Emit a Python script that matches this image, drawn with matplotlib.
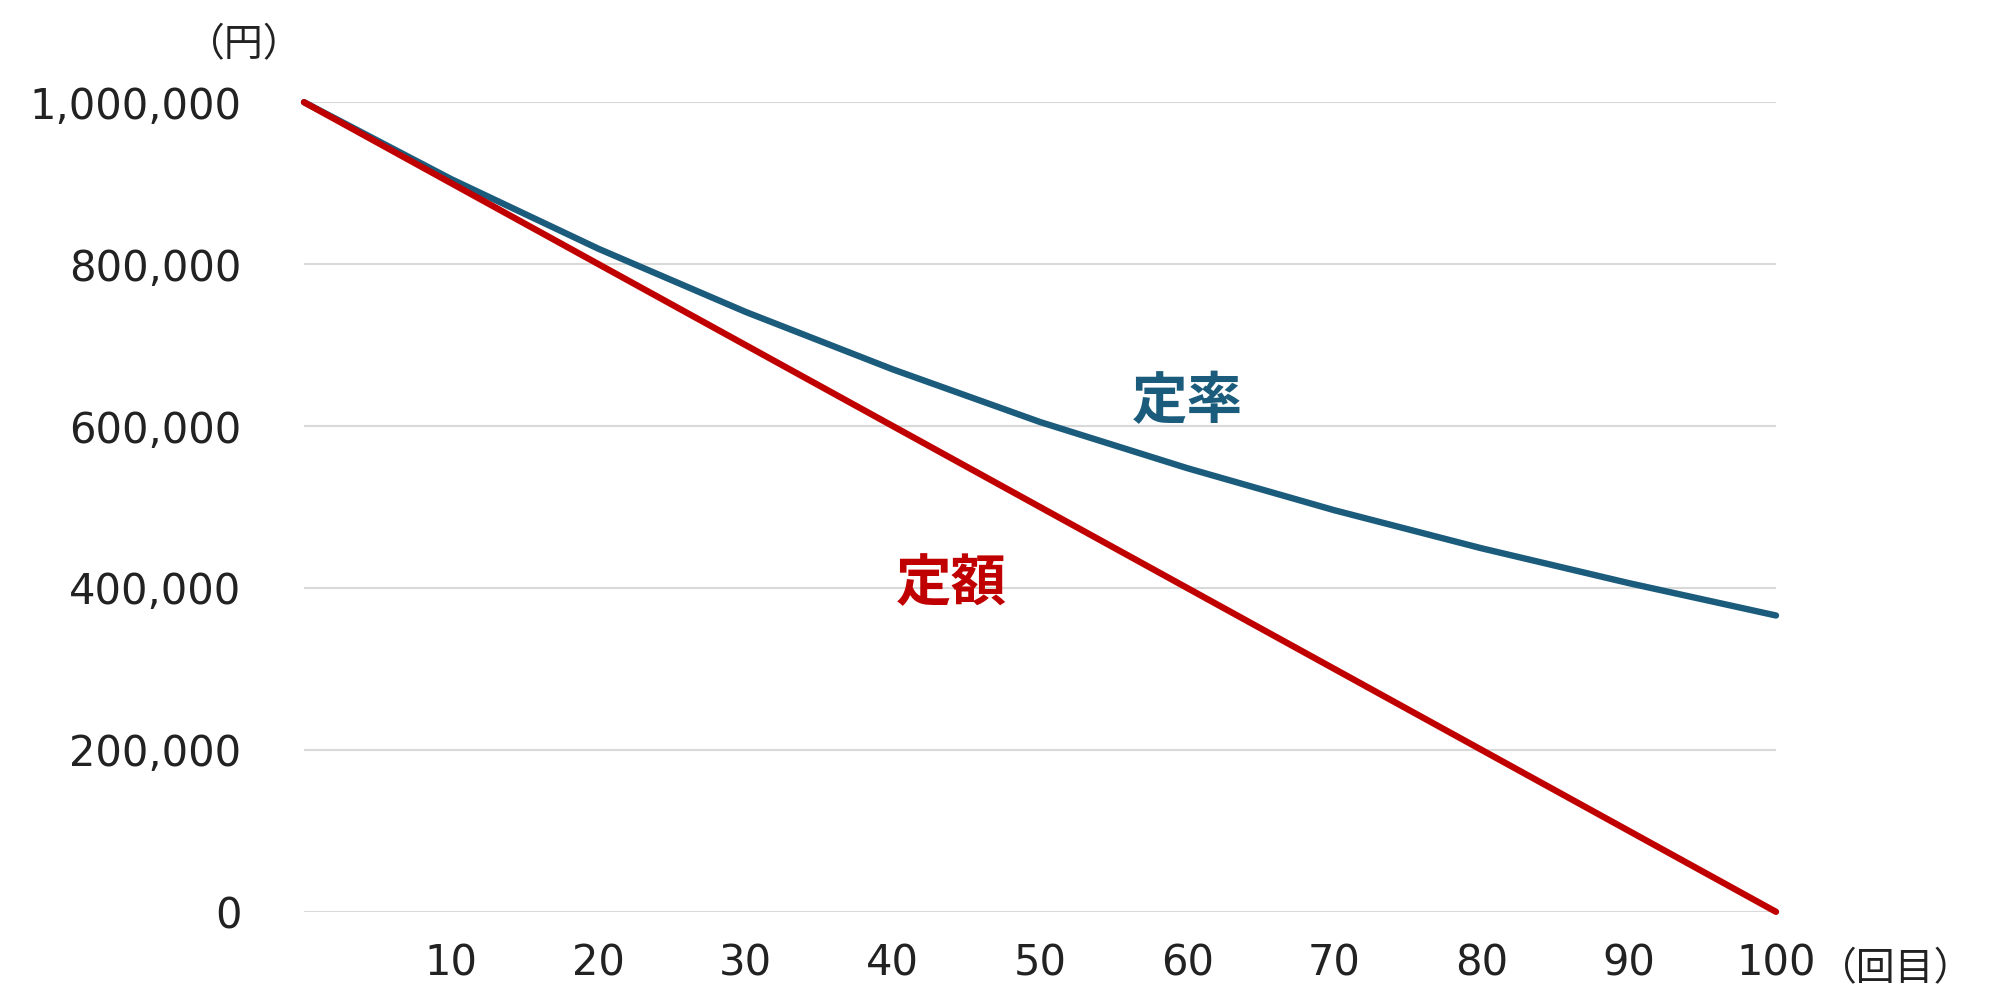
import matplotlib
matplotlib.use("Agg")
import matplotlib.pyplot as plt

x = [0, 10, 20, 30, 40, 50, 60, 70, 80, 90, 100]
teigaku = [1000000, 900000, 800000, 700000, 600000, 500000, 400000, 300000, 200000, 100000, 0]
teiritsu = [1000000, 905000, 819000, 741000, 670000, 605000, 548000, 496000, 449000, 406000, 366000]
xticks = [10, 20, 30, 40, 50, 60, 70, 80, 90, 100]
yticks = [0, 200000, 400000, 600000, 800000, 1000000]

plt.rcParams['font.family'] = ['DejaVu Sans', 'Noto Sans CJK JP']
fig = plt.figure(figsize=(20, 10.02), dpi=100)
ax = fig.add_axes([0.152, 0.09, 0.736, 0.808])
ax.plot(x, teiritsu, color='#1B5B7B', lw=4.6, clip_on=False, solid_capstyle='round', zorder=3)
ax.plot(x, teigaku, color='#C00000', lw=4.6, clip_on=False, solid_capstyle='round', zorder=3)
ax.set_xlim(0, 100)
ax.set_ylim(0, 1000000)
ax.set_xticks(xticks)
ax.set_yticks(yticks)
ax.set_yticklabels([f"{v:,}" for v in yticks])
ax.grid(axis='y', color='#D9D9D9', lw=1.5)
ax.set_axisbelow(True)
for s in ax.spines.values():
    s.set_visible(False)
ax.tick_params(length=0, labelsize=30, colors='#222222')
ax.tick_params(axis='x', pad=22)
ax.tick_params(axis='y', pad=45)
ax.text(60, 630000, '定率', color='#1B5B7B', fontsize=40, fontweight='bold',
        family='Noto Sans CJK JP', ha='center', va='center')
ax.text(44, 405000, '定額', color='#C00000', fontsize=40, fontweight='bold',
        family='Noto Sans CJK JP', ha='center', va='center')
fig.text(0.122, 0.955, '（円）', fontsize=28, family='Noto Sans CJK JP', ha='center', va='center', color='#222222')
fig.text(0.948, 0.033, '（回目）', fontsize=28, family='Noto Sans CJK JP', ha='center', va='center', color='#222222')
fig.savefig('out.png')
